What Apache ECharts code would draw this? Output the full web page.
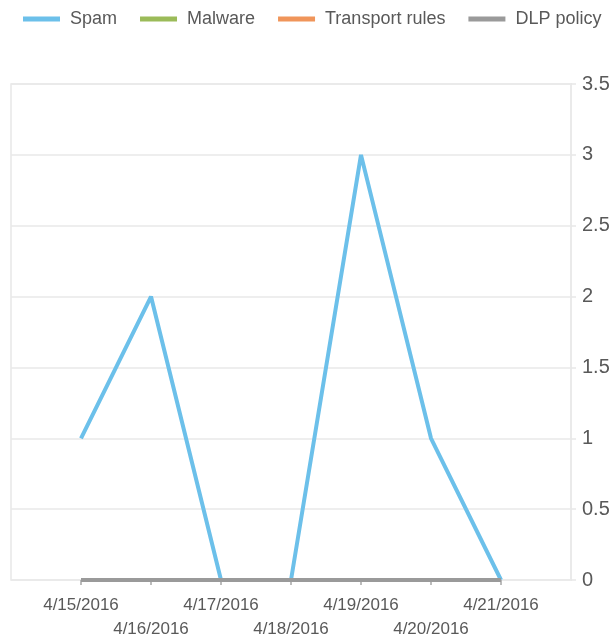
<!DOCTYPE html>
<html>
<head>
<meta charset="utf-8">
<title>Mail protection</title>
<script src="https://cdn.jsdelivr.net/npm/echarts@6/dist/echarts.min.js"></script>
<style>
    html, body { margin: 0; padding: 0; background: #ffffff; }
    #chart00 { width: 613px; height: 644px; }
</style>
</head>
<body>
<div id="chart00"></div>
<script>
// categories (days)
let dateList = ['4/15/2016', '4/16/2016', '4/17/2016', '4/18/2016', '4/19/2016', '4/20/2016', '4/21/2016'];
// series values
let spamArray = [1, 2, 0, 0, 3, 1, 0];
let malwareArray = [0, 0, 0, 0, 0, 0, 0];
let transportArray = [0, 0, 0, 0, 0, 0, 0];
let dlpArray = [0, 0, 0, 0, 0, 0, 0];
// y tick labels
let yTicks = [0, 0.5, 1, 1.5, 2, 2.5, 3, 3.5];

let fontName = "'Liberation Sans', Arial, sans-serif";
let textColor = '#595959';
let gridColor = '#e8e8e8';

// empty slot on each side, the plot area is one day wider on both ends
let axisList = [''].concat(dateList).concat(['']);

/**
 * day name -> value pairs
 */
function toPairs(arr) {
    let list = [];
    for (let i = 0; i < arr.length; i++) {
        list.push([dateList[i], arr[i]]);
    }
    return list;
}

function lineSeries(name, arr, color) {
    return {
        name: name,
        type: 'line',
        symbol: 'none',
        data: toPairs(arr),
        lineStyle: { color: color, width: 4 },
        itemStyle: { color: color }
    };
}

let option = {
    animation: false,
    textStyle: { fontFamily: fontName },
    legend: {
        left: 18,
        top: 5,
        icon: 'rect',
        itemWidth: 37,
        itemHeight: 5,
        itemGap: 23,
        textStyle: {
            fontFamily: fontName,
            fontSize: 18,
            color: textColor,
            padding: [0, 0, 0, 5]
        },
        data: ['Spam', 'Malware', 'Transport rules', 'DLP policy']
    },
    grid: {
        left: 11,
        right: 42,
        top: 84,
        bottom: 64,
        show: true,
        borderColor: gridColor,
        borderWidth: 1.5
    },
    xAxis: {
        type: 'category',
        data: axisList,
        boundaryGap: false,
        splitLine: { show: false },
        axisLine: { show: false, onZero: false },
        axisTick: {
            show: true,
            length: 5,
            interval: function (index, value) { return value !== ''; },
            lineStyle: { color: '#a6a6a6', width: 1.5 }
        },
        axisLabel: {
            interval: 0,
            hideOverlap: false,
            fontFamily: fontName,
            fontSize: 17,
            color: textColor,
            margin: 13,
            lineHeight: 24,
            formatter: function (value, index) {
                if (value === '') {
                    return '';
                }
                return (index - 1) % 2 === 1 ? '\n' + value : value;
            }
        }
    },
    yAxis: {
        type: 'value',
        position: 'right',
        min: yTicks[0],
        max: yTicks[yTicks.length - 1],
        interval: 0.5,
        axisLine: { show: true, onZero: false, lineStyle: { color: gridColor, width: 1.5 } },
        axisTick: { show: true, length: 5, lineStyle: { color: gridColor, width: 1.5 } },
        splitLine: { show: true, lineStyle: { color: gridColor, width: 1.5 } },
        axisLabel: {
            fontFamily: fontName,
            fontSize: 20,
            color: textColor,
            margin: 11
        }
    },
    series: [
        lineSeries('Spam', spamArray, '#6cc0ea'),
        lineSeries('Malware', malwareArray, '#9bbb59'),
        lineSeries('Transport rules', transportArray, '#f0955a'),
        lineSeries('DLP policy', dlpArray, '#9a9a9a')
    ]
};

let myChart_0 = echarts.init(document.getElementById('chart00'));
myChart_0.setOption(option);
</script>
</body>
</html>
